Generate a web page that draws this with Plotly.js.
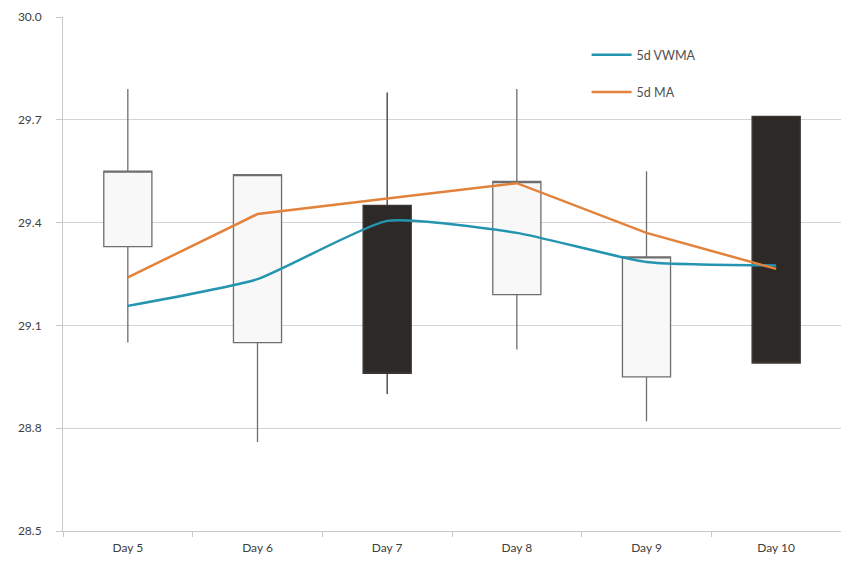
<!DOCTYPE html>
<html>
<head>
<meta charset="utf-8">
<script src="https://cdn.plot.ly/plotly-3.0.1.min.js"></script>
<style>html,body{margin:0;padding:0;background:#fff;}#chart{width:841px;height:571px;}</style>
</head>
<body>
<div id="chart"></div>
<script>
const days = ["Day 5", "Day 6", "Day 7", "Day 8", "Day 9", "Day 10"];
const openVals  = [29.33, 29.05, 29.45, 29.19, 28.95, 29.71];
const highVals  = [29.79, 29.54, 29.78, 29.79, 29.55, 29.71];
const lowVals   = [29.05, 28.76, 28.90, 29.03, 28.82, 28.99];
const closeVals = [29.55, 29.54, 28.96, 29.52, 29.30, 28.99];
const vwma5d = [29.157, 29.235, 29.405, 29.37, 29.285, 29.275];
const ma5d   = [29.24, 29.425, 29.47, 29.515, 29.37, 29.265];
const yTicks = [28.5, 28.8, 29.1, 29.4, 29.7, 30.0];

const font = "Lato, 'Open Sans', sans-serif";

const traces = [
  {
    type: "candlestick",
    x: days, open: openVals, high: highVals, low: lowVals, close: closeVals,
    increasing: {fillcolor: "#f8f8f8", line: {color: "#6e6e6e", width: 1.3}},
    decreasing: {fillcolor: "#2d2926", line: {color: "#3a3634", width: 1.3}},
    whiskerwidth: 0,
    showlegend: false,
    hoverinfo: "skip"
  },
  {
    type: "scatter", mode: "lines", name: "5d VWMA",
    x: days, y: vwma5d,
    line: {color: "#2495b0", width: 2.5, shape: "spline", smoothing: 0.5},
    legendgroup: "a"
  },
  {
    type: "scatter", mode: "lines", name: "5d MA",
    x: days, y: ma5d,
    line: {color: "#e3823a", width: 2.5},
    legendgroup: "b"
  }
];

const layout = {
  width: 841, height: 571,
  margin: {l: 63, r: 0, t: 17, b: 40},
  paper_bgcolor: "#fff", plot_bgcolor: "#fff",
  font: {family: font, size: 12, color: "#404040"},
  boxgap: 0.47,
  showlegend: true,
  legend: {
    x: 0.673, y: 0.955, xanchor: "left", yanchor: "top",
    bgcolor: "#ffffff", font: {family: font, size: 12.5, color: "#505050"},
    traceorder: "grouped", tracegroupgap: 18, itemwidth: 40
  },
  xaxis: {
    type: "category",
    rangeslider: {visible: false},
    showgrid: false,
    showline: true, linecolor: "#c8c8c8", linewidth: 1,
    ticks: "outside", tickson: "boundaries", ticklen: 5, tickcolor: "#c8c8c8",
    ticklabelstandoff: 6,
    tickfont: {family: font, size: 12, color: "#404040"},
    zeroline: false, fixedrange: true
  },
  yaxis: {
    range: [28.5, 30.0],
    tickvals: yTicks, tickformat: ".1f",
    showgrid: true, gridcolor: "#d4d4d4", gridwidth: 1,
    showline: true, linecolor: "#c8c8c8", linewidth: 1,
    ticks: "outside", ticklen: 6, tickcolor: "#c8c8c8",
    ticklabelstandoff: 12,
    tickfont: {family: font, size: 12, color: "#404040"},
    zeroline: false, fixedrange: true
  }
};

Plotly.newPlot("chart", traces, layout, {displayModeBar: false, staticPlot: true});
</script>
</body>
</html>
